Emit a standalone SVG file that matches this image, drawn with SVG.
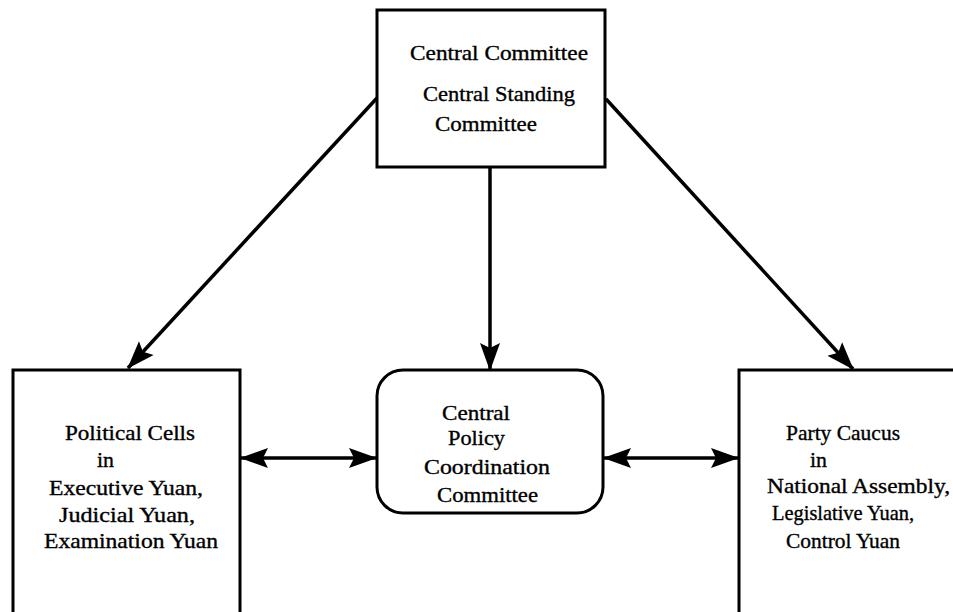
<svg xmlns="http://www.w3.org/2000/svg" width="953" height="612" viewBox="0 0 953 612">
  <style>
    .box { fill: #fff; stroke: #000; stroke-width: 3; }
    .lbl { font-family: "Liberation Serif", "Times New Roman", serif; font-size: 21px; fill: #000; stroke: #000; stroke-width: 0.35px; }
    .edge { stroke: #000; stroke-width: 3.5; fill: none; }
  </style>
  <defs>
    <marker id="head" markerUnits="userSpaceOnUse" markerWidth="28" markerHeight="22" viewBox="0 0 28 22" refX="27" refY="11" orient="auto-start-reverse">
      <path d="M0,1 L28,11 L0,21 L5,11 z" fill="#000"/>
    </marker>
  </defs>

  <rect width="953" height="612" fill="#fff"/>

  <!-- connectors -->
  <g id="connectors">
    <line class="edge" x1="377" y1="98" x2="128" y2="368" marker-end="url(#head)"/>
    <line class="edge" x1="606" y1="99" x2="853" y2="369" marker-end="url(#head)"/>
    <line class="edge" x1="490" y1="167" x2="490" y2="370" marker-end="url(#head)"/>
    <line class="edge" x1="241" y1="458" x2="376" y2="458" marker-start="url(#head)" marker-end="url(#head)"/>
    <line class="edge" x1="604" y1="458" x2="738" y2="458" marker-start="url(#head)" marker-end="url(#head)"/>
  </g>

  <!-- central committee -->
  <g id="central-committee">
    <rect class="box" x="377" y="10" width="228" height="157"/>
    <text class="lbl" x="410" y="60" textLength="178" lengthAdjust="spacingAndGlyphs">Central Committee</text>
    <text class="lbl" x="423" y="101" textLength="152" lengthAdjust="spacingAndGlyphs">Central Standing</text>
    <text class="lbl" x="435" y="131" textLength="102" lengthAdjust="spacingAndGlyphs">Committee</text>
  </g>

  <!-- political cells -->
  <g id="political-cells">
    <rect class="box" x="13" y="370" width="227" height="260"/>
    <text class="lbl" x="65" y="440" textLength="130" lengthAdjust="spacingAndGlyphs">Political Cells</text>
    <text class="lbl" x="97" y="467" textLength="17" lengthAdjust="spacingAndGlyphs">in</text>
    <text class="lbl" x="49" y="495" textLength="154" lengthAdjust="spacingAndGlyphs">Executive Yuan,</text>
    <text class="lbl" x="59" y="522" textLength="136" lengthAdjust="spacingAndGlyphs">Judicial Yuan,</text>
    <text class="lbl" x="44" y="548" textLength="174" lengthAdjust="spacingAndGlyphs">Examination Yuan</text>
  </g>

  <!-- central policy coordination committee -->
  <g id="policy-committee">
    <rect class="box" x="377" y="370" width="226" height="143" rx="26" ry="26"/>
    <text class="lbl" x="442" y="420" textLength="68" lengthAdjust="spacingAndGlyphs">Central</text>
    <text class="lbl" x="448" y="445" textLength="57" lengthAdjust="spacingAndGlyphs">Policy</text>
    <text class="lbl" x="424" y="474" textLength="126" lengthAdjust="spacingAndGlyphs">Coordination</text>
    <text class="lbl" x="437" y="502" textLength="101" lengthAdjust="spacingAndGlyphs">Committee</text>
  </g>

  <!-- party caucus -->
  <g id="party-caucus">
    <rect class="box" x="739" y="370" width="240" height="260"/>
    <text class="lbl" x="786" y="440" textLength="114" lengthAdjust="spacingAndGlyphs">Party Caucus</text>
    <text class="lbl" x="810" y="467" textLength="17" lengthAdjust="spacingAndGlyphs">in</text>
    <text class="lbl" x="767" y="493" textLength="183" lengthAdjust="spacingAndGlyphs">National Assembly,</text>
    <text class="lbl" x="772" y="520" textLength="142" lengthAdjust="spacingAndGlyphs">Legislative Yuan,</text>
    <text class="lbl" x="786" y="548" textLength="114" lengthAdjust="spacingAndGlyphs">Control Yuan</text>
  </g>
</svg>
